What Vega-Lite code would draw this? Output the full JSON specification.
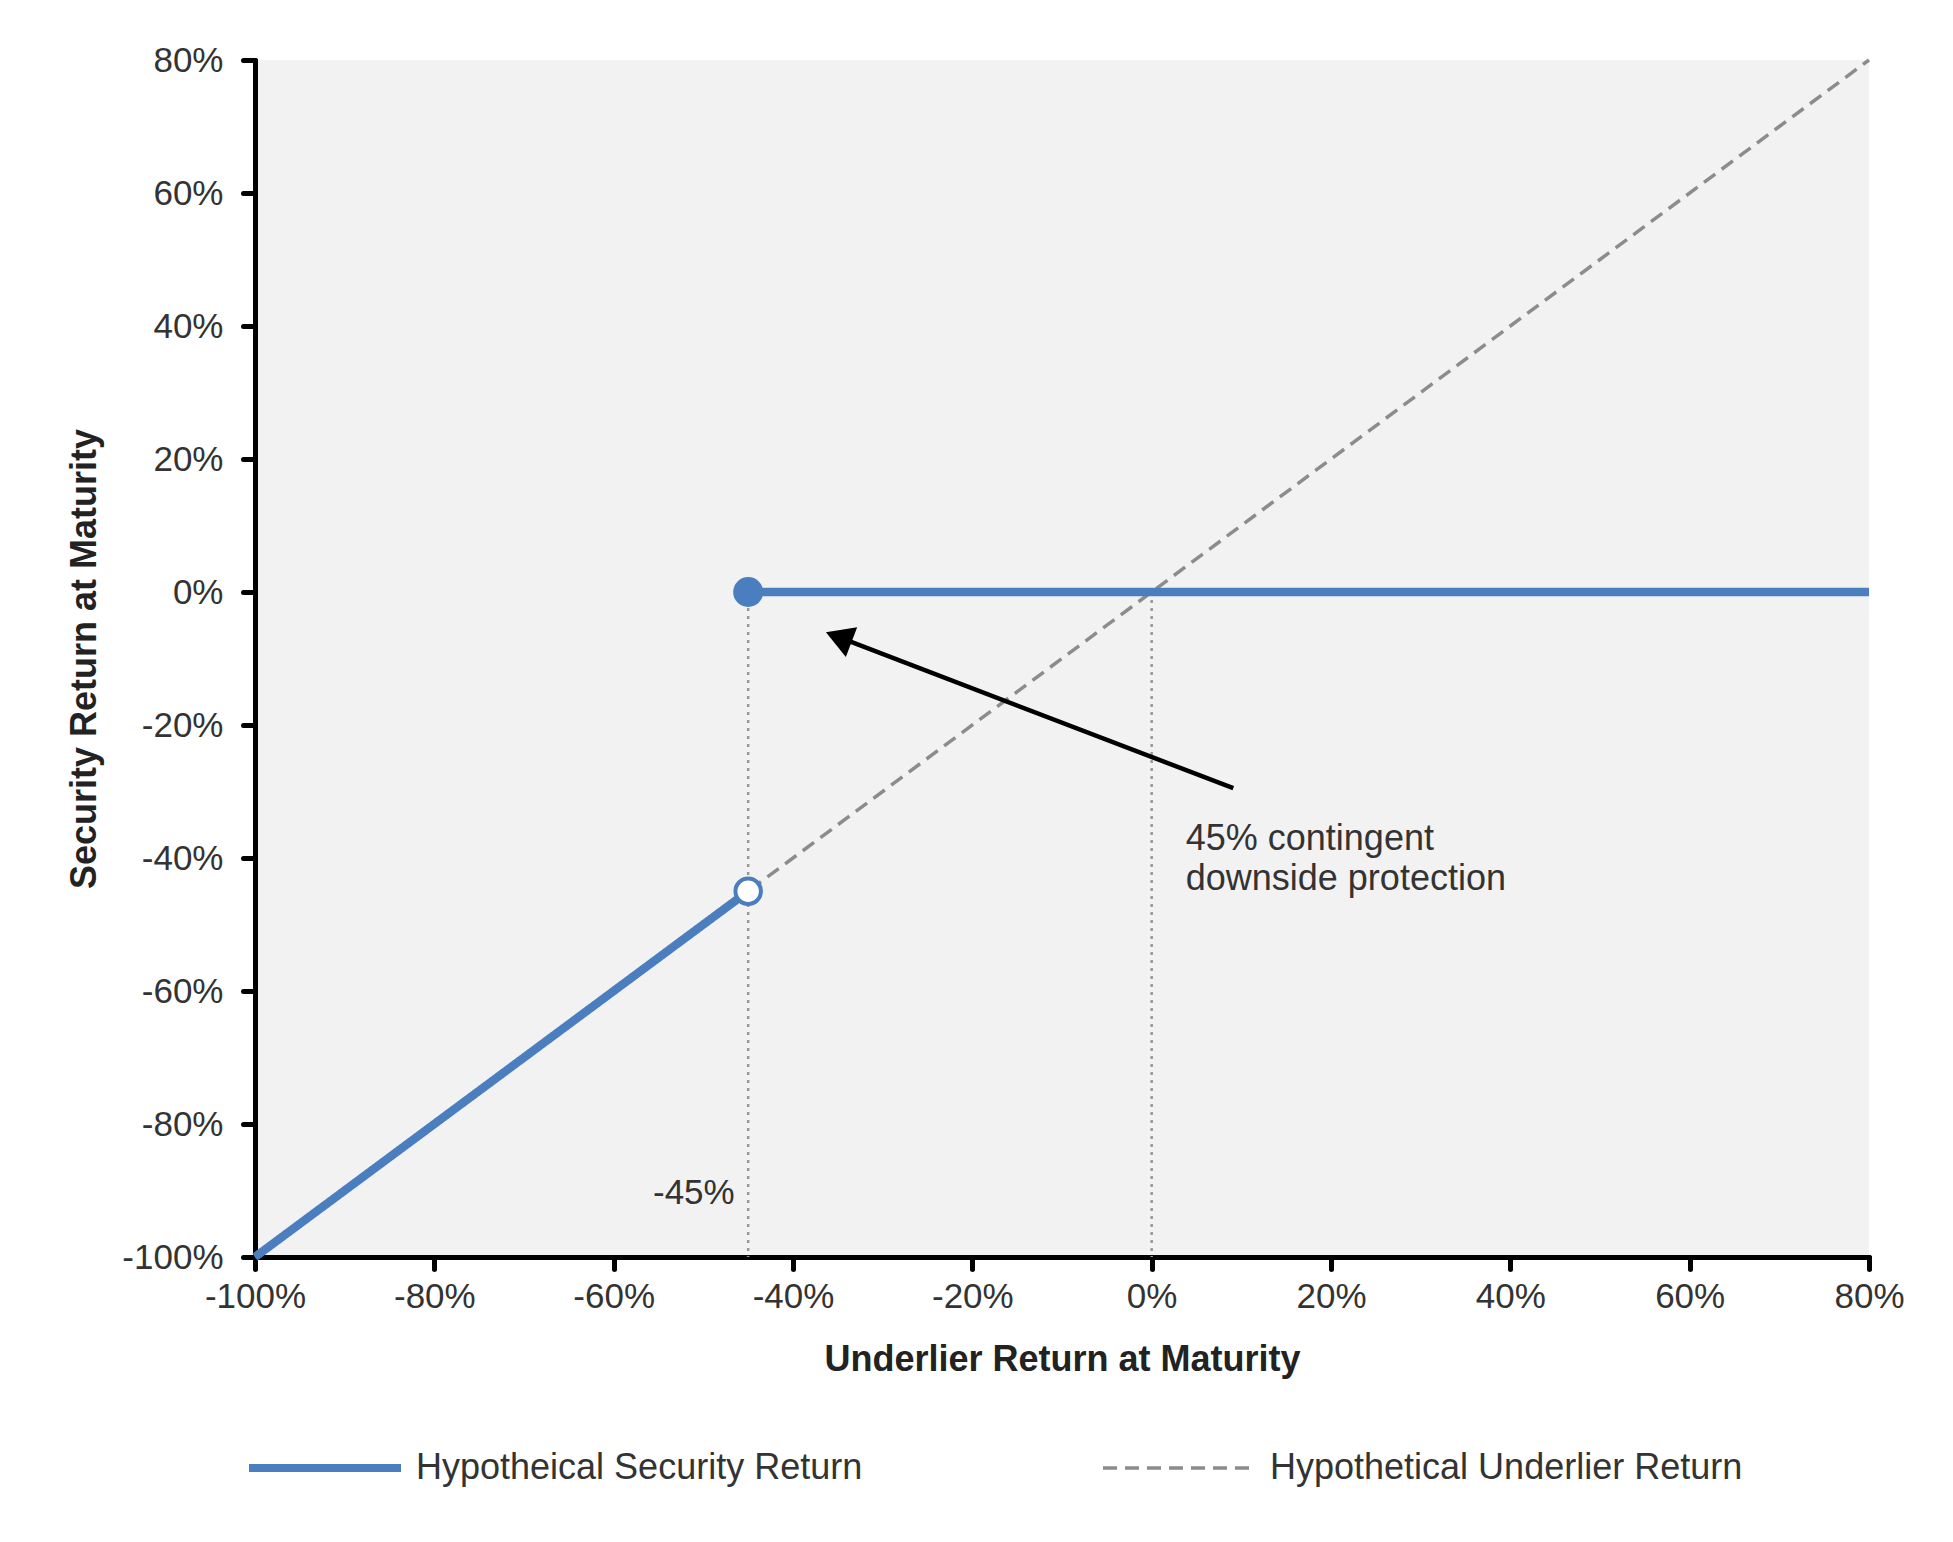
{
  "$schema": "https://vega.github.io/schema/vega-lite/v6.json",
  "width": 1614,
  "height": 1197,
  "autosize": {"type": "none"},
  "padding": {"left": 255, "top": 60, "right": 84, "bottom": 285},
  "background": "white",
  "config": {
    "font": "Liberation Sans",
    "view": {"fill": "#f2f2f2", "stroke": null},
    "axis": {
      "grid": false,
      "domainColor": "#000000",
      "domainWidth": 5,
      "domainCap": "round",
      "tickColor": "#000000",
      "tickWidth": 5,
      "tickSize": 12,
      "tickCap": "round",
      "labelFlush": false,
      "labelOverlap": false,
      "labelFont": "Liberation Sans",
      "labelFontSize": 35,
      "labelColor": "#333333",
      "titleFont": "Liberation Sans",
      "titleFontSize": 36,
      "titleFontWeight": "bold",
      "titleColor": "#222222"
    },
    "legend": {
      "orient": "none",
      "legendX": 52,
      "legendY": 1390,
      "direction": "horizontal",
      "symbolType": "stroke",
      "symbolSize": 23104,
      "symbolStrokeWidth": 6,
      "labelFont": "Liberation Sans",
      "labelFontSize": 36,
      "labelColor": "#333333",
      "labelOffset": 73,
      "labelLimit": 1000,
      "columnPadding": 233
    }
  },
  "datasets": {
    "lines": [
      {"series": "Hypothetical Underlier Return", "seg": "u", "x": -100, "y": -100},
      {"series": "Hypothetical Underlier Return", "seg": "u", "x": 80, "y": 80},
      {"series": "Hypotheical Security Return", "seg": "a", "x": -100, "y": -100},
      {"series": "Hypotheical Security Return", "seg": "a", "x": -45, "y": -45},
      {"series": "Hypotheical Security Return", "seg": "b", "x": -45, "y": 0},
      {"series": "Hypotheical Security Return", "seg": "b", "x": 80, "y": 0}
    ],
    "guides": [
      {"x": -45, "y": 0, "ybase": -100},
      {"x": 0, "y": 0, "ybase": -100}
    ],
    "arrow": [
      {"x": 9.1, "y": -29.5, "x2": -34.9, "y2": -6.8}
    ],
    "head": [
      {"x": -34.9, "y": -6.8}
    ],
    "filled": [{"x": -45, "y": 0}],
    "open": [{"x": -45, "y": -45}],
    "notes": [
      {"x": 3.8, "y": -37.2, "text": "45% contingent\ndownside protection"}
    ],
    "barrier": [
      {"x": -46.5, "y": -90.4, "text": "-45%"}
    ]
  },
  "encoding": {
    "x": {
      "field": "x",
      "type": "quantitative",
      "scale": {"domain": [-100, 80], "nice": false, "zero": false},
      "axis": {
        "title": "Underlier Return at Maturity",
        "values": [-100, -80, -60, -40, -20, 0, 20, 40, 60, 80],
        "labelExpr": "datum.value + '%'",
        "labelPadding": 10,
        "titlePadding": 28
      }
    },
    "y": {
      "field": "y",
      "type": "quantitative",
      "scale": {"domain": [-100, 80], "nice": false, "zero": false},
      "axis": {
        "title": "Security Return at Maturity",
        "values": [-100, -80, -60, -40, -20, 0, 20, 40, 60, 80],
        "labelExpr": "datum.value + '%'",
        "labelPadding": 20,
        "titlePadding": 18
      }
    }
  },
  "layer": [
    {
      "data": {"name": "guides"},
      "mark": {"type": "rule", "color": "#999999", "strokeWidth": 2.5, "strokeDash": [3, 5]},
      "encoding": {
        "y2": {"field": "ybase"}
      }
    },
    {
      "data": {"name": "lines"},
      "transform": [{"filter": "datum.seg === 'u'"}],
      "mark": {"type": "line", "strokeWidth": 3.5},
      "encoding": {
        "detail": {"field": "seg"},
        "color": {
          "field": "series",
          "type": "nominal",
          "scale": {
            "domain": ["Hypotheical Security Return", "Hypothetical Underlier Return"],
            "range": ["#4a7ebf", "#8c8c8c"]
          },
          "legend": {
            "title": null,
            "encode": {
              "symbols": {
                "update": {
                  "strokeWidth": {"signal": "datum.value === 'Hypotheical Security Return' ? 8 : 3.5"}
                }
              }
            }
          }
        },
        "strokeDash": {
          "field": "series",
          "type": "nominal",
          "scale": {
            "domain": ["Hypotheical Security Return", "Hypothetical Underlier Return"],
            "range": [[1, 0], [14, 8]]
          },
          "legend": {"title": null}
        }
      }
    },
    {
      "data": {"name": "lines"},
      "transform": [{"filter": "datum.seg !== 'u'"}],
      "mark": {"type": "line", "strokeWidth": 8.5, "strokeCap": "butt"},
      "encoding": {
        "detail": {"field": "seg"},
        "color": {"field": "series", "type": "nominal"},
        "strokeDash": {"field": "series", "type": "nominal"}
      }
    },
    {
      "data": {"name": "filled"},
      "mark": {"type": "point", "filled": true, "color": "#4a7ebf", "size": 900, "opacity": 1}
    },
    {
      "data": {"name": "open"},
      "mark": {"type": "point", "filled": true, "fill": "white", "stroke": "#4a7ebf", "strokeWidth": 4, "size": 650, "opacity": 1}
    },
    {
      "data": {"name": "arrow"},
      "mark": {"type": "rule", "color": "#000000", "strokeWidth": 4.5},
      "encoding": {
        "x2": {"field": "x2"},
        "y2": {"field": "y2"}
      }
    },
    {
      "data": {"name": "head"},
      "mark": {"type": "point", "shape": "triangle-up", "filled": true, "color": "#000000", "size": 1000, "angle": 291, "opacity": 1}
    },
    {
      "data": {"name": "notes"},
      "mark": {"type": "text", "align": "left", "baseline": "middle", "fontSize": 36, "lineBreak": "\n", "lineHeight": 40, "color": "#333333"},
      "encoding": {
        "text": {"field": "text"}
      }
    },
    {
      "data": {"name": "barrier"},
      "mark": {"type": "text", "align": "right", "baseline": "middle", "fontSize": 35, "color": "#333333"},
      "encoding": {
        "text": {"field": "text"}
      }
    }
  ]
}
